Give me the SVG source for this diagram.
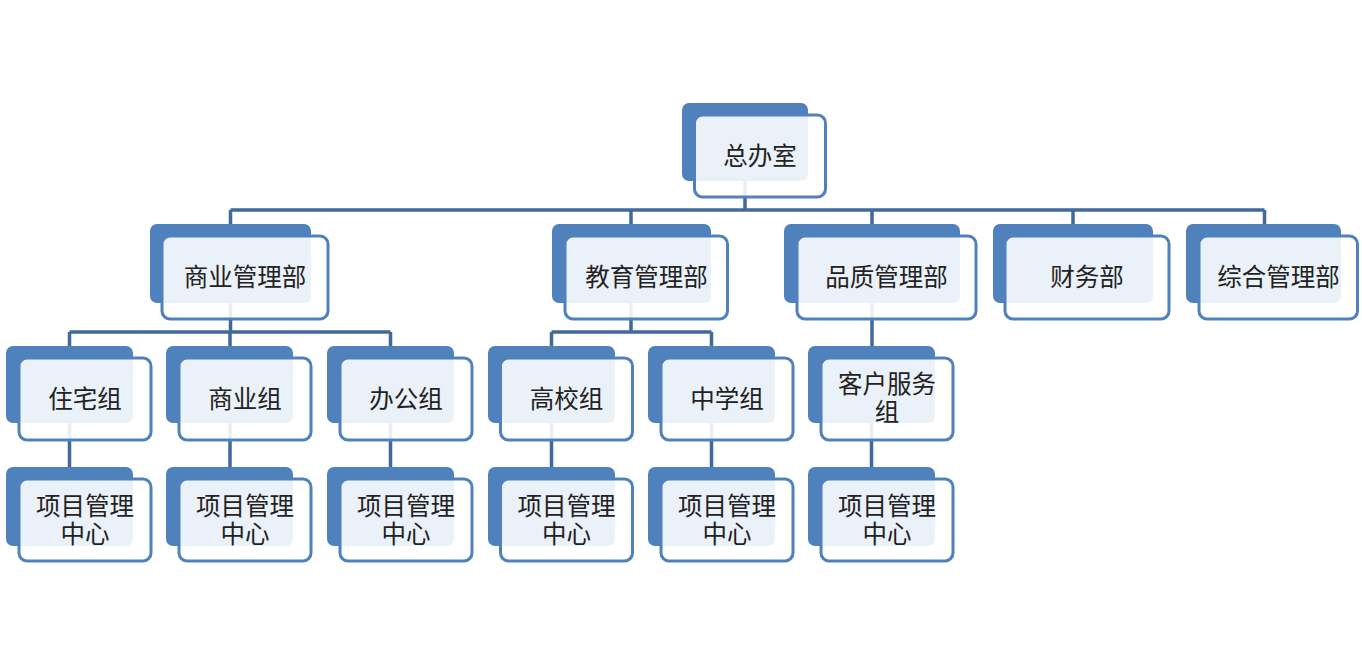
<svg xmlns="http://www.w3.org/2000/svg" width="1362" height="663" viewBox="0 0 1362 663">
<style>
.bg{fill:#ffffff}
.back{fill:#4F81BD}
.front{fill:#ffffff;fill-opacity:0.89;stroke:#4F81BD;stroke-width:3}
.conn{fill:none;stroke:#41699C;stroke-width:3.5;stroke-linejoin:miter}
text{font-family:"Noto Sans CJK SC","Noto Sans CJK JP",sans-serif;font-size:24.5px;fill:#222222;text-anchor:middle;dominant-baseline:central}
</style>
<rect class="bg" x="0" y="0" width="1362" height="663"/>
<g id="connectors">
<path class="conn" d="M745 181V210M230.5 210H1264.5M230.5 210V226M631 210V226M872 210V226M1073 210V226M1264.5 210V226"/>
<path class="conn" d="M230.5 303V332M69.5 332H390.5M69.5 332V348M230 332V348M390.5 332V348"/>
<path class="conn" d="M631 303V332M551.5 332H711.5M551.5 332V348M711.5 332V348"/>
<path class="conn" d="M872 303V348"/>
<path class="conn" d="M69.5 423V469M230 423V469M390.5 423V469M551.5 423V469M711.5 423V469M871.5 423V469"/>
</g>
<g id="n-zongbanshi"><rect class="back" x="682" y="103" width="126" height="78" rx="7"/><rect class="front" x="694.5" y="115" width="131" height="82" rx="8"/><text x="760" y="154">总办室</text></g>
<g id="n-shangye"><rect class="back" x="150" y="224" width="161" height="79" rx="7"/><rect class="front" x="162" y="236" width="166" height="83" rx="8"/><text x="245" y="275">商业管理部</text></g>
<g id="n-jiaoyu"><rect class="back" x="552" y="224" width="159" height="79" rx="7"/><rect class="front" x="565" y="236" width="162.5" height="83" rx="8"/><text x="646.5" y="275">教育管理部</text></g>
<g id="n-pinzhi"><rect class="back" x="784" y="224" width="176" height="79" rx="7"/><rect class="front" x="797" y="236" width="179" height="83" rx="8"/><text x="886.5" y="275">品质管理部</text></g>
<g id="n-caiwu"><rect class="back" x="993" y="224" width="160" height="79" rx="7"/><rect class="front" x="1005" y="236" width="164" height="83" rx="8"/><text x="1087" y="275">财务部</text></g>
<g id="n-zonghe"><rect class="back" x="1186" y="224" width="155" height="79" rx="7"/><rect class="front" x="1199" y="236" width="158.5" height="83" rx="8"/><text x="1278.5" y="275">综合管理部</text></g>
<g id="n-zhuzhai"><rect class="back" x="6" y="346" width="127" height="77" rx="7"/><rect class="front" x="19" y="358" width="132" height="82" rx="8"/><text x="85" y="397">住宅组</text></g>
<g id="n-shangyezu"><rect class="back" x="166" y="346" width="127" height="77" rx="7"/><rect class="front" x="179" y="358" width="132" height="82" rx="8"/><text x="245" y="397">商业组</text></g>
<g id="n-bangong"><rect class="back" x="327" y="346" width="127" height="77" rx="7"/><rect class="front" x="340" y="358" width="132" height="82" rx="8"/><text x="406" y="397">办公组</text></g>
<g id="n-gaoxiao"><rect class="back" x="488" y="346" width="127" height="77" rx="7"/><rect class="front" x="500.5" y="358" width="132" height="82" rx="8"/><text x="566.5" y="397">高校组</text></g>
<g id="n-zhongxue"><rect class="back" x="648" y="346" width="127" height="77" rx="7"/><rect class="front" x="661" y="358" width="132" height="82" rx="8"/><text x="727" y="397">中学组</text></g>
<g id="n-kehu"><rect class="back" x="808" y="346" width="127" height="77" rx="7"/><rect class="front" x="821" y="358" width="132" height="82" rx="8"/><text><tspan x="887" y="382">客户服务</tspan><tspan x="887" dy="28">组</tspan></text></g>
<g id="n-xm1"><rect class="back" x="6" y="467" width="127" height="79" rx="7"/><rect class="front" x="19" y="479" width="132" height="82" rx="8"/><text><tspan x="85" y="504">项目管理</tspan><tspan x="85" dy="28">中心</tspan></text></g>
<g id="n-xm2"><rect class="back" x="166" y="467" width="127" height="79" rx="7"/><rect class="front" x="179" y="479" width="132" height="82" rx="8"/><text><tspan x="245" y="504">项目管理</tspan><tspan x="245" dy="28">中心</tspan></text></g>
<g id="n-xm3"><rect class="back" x="327" y="467" width="127" height="79" rx="7"/><rect class="front" x="340" y="479" width="132" height="82" rx="8"/><text><tspan x="406" y="504">项目管理</tspan><tspan x="406" dy="28">中心</tspan></text></g>
<g id="n-xm4"><rect class="back" x="488" y="467" width="127" height="79" rx="7"/><rect class="front" x="500.5" y="479" width="132" height="82" rx="8"/><text><tspan x="566.5" y="504">项目管理</tspan><tspan x="566.5" dy="28">中心</tspan></text></g>
<g id="n-xm5"><rect class="back" x="648" y="467" width="127" height="79" rx="7"/><rect class="front" x="661" y="479" width="132" height="82" rx="8"/><text><tspan x="727" y="504">项目管理</tspan><tspan x="727" dy="28">中心</tspan></text></g>
<g id="n-xm6"><rect class="back" x="808" y="467" width="127" height="79" rx="7"/><rect class="front" x="821" y="479" width="132" height="82" rx="8"/><text><tspan x="887" y="504">项目管理</tspan><tspan x="887" dy="28">中心</tspan></text></g>
</svg>
